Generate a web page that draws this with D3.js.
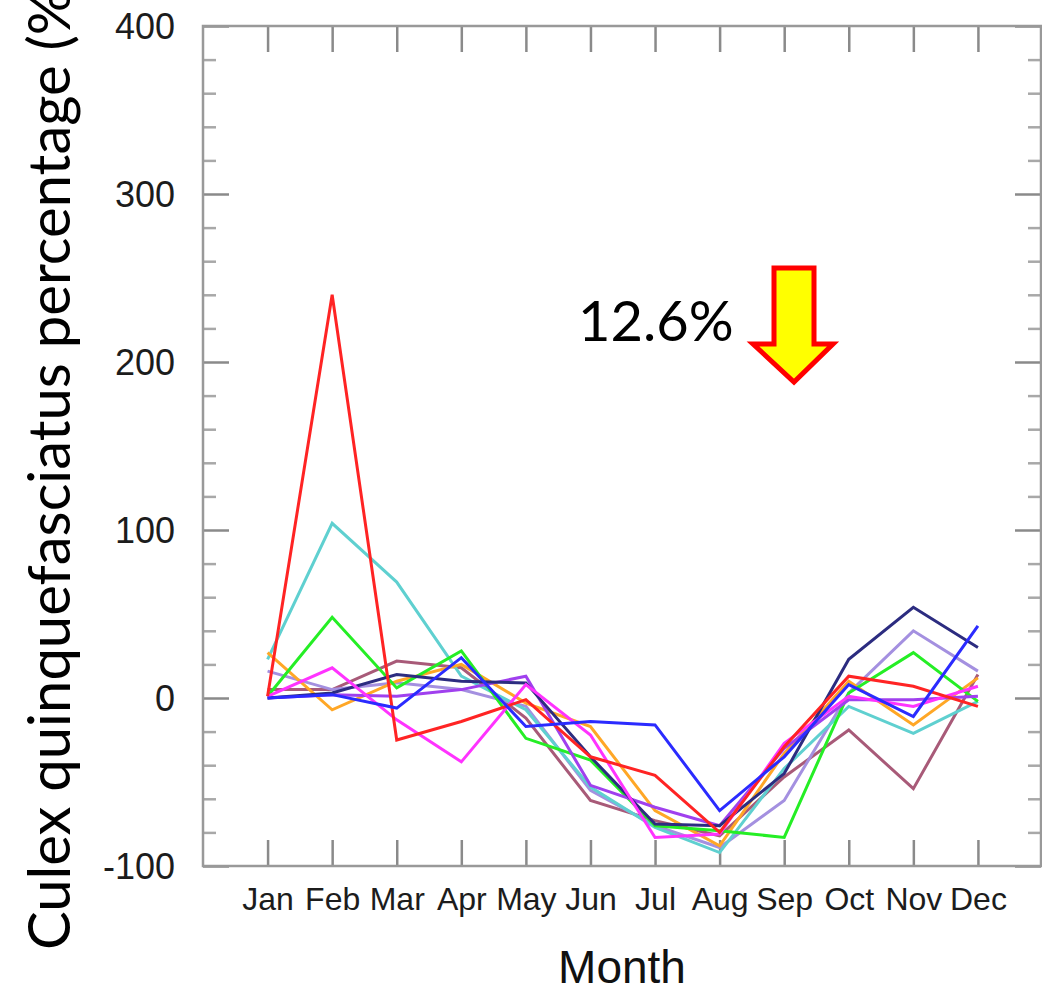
<!DOCTYPE html>
<html>
<head>
<meta charset="utf-8">
<script src="https://cdn.jsdelivr.net/npm/d3@7"></script>
<style>
  html, body { margin: 0; padding: 0; background: #fff; }
  svg { display: block; }
  .tick text { fill: #1c1c1c; font-family: "Liberation Sans", Arial, sans-serif; }
</style>
</head>
<body>
<svg id="chart" width="1042" height="990"></svg>
<script>
"use strict";

/* monthly change of Culex quinquefasciatus percentage, one series per run */
const MONTHS = ["Jan", "Feb", "Mar", "Apr", "May", "Jun", "Jul", "Aug", "Sep", "Oct", "Nov", "Dec"];
const Y_TICKS = [-100, 0, 100, 200, 300, 400];

const red      = [1, 240, -25, -14, -1, -35, -46, -80, -29, 13, 7, -5];
const cyan     = [23, 104, 69, 13, -7, -53, -77, -92, -42, -5, -21, -2];
const green    = [1, 48, 6, 28, -24, -37, -76, -79, -83, 3, 27, -2];
const orange   = [27, -7, 10, 20, -3, -17, -67, -88, -33, 10, -16, 12];
const brown    = [5, 5, 22, 18, -12, -61, -73, -82, -47, -19, -54, 14];
const lavender = [16, 5, 9, 5, -5, -55, -76, -89, -61, 3, 40, 16];
const purple   = [0, 2, 1, 5, 13, -52, -65, -76, -30, -1, -1, 1];
const magenta  = [1, 18, -13, -38, 8, -22, -83, -81, -27, 1, -5, 7];
const navy     = [0, 3, 14, 10, 9, -35, -75, -76, -45, 23, 54, 30];
const blue     = [0, 2, -6, 24, -17, -14, -16, -67, -35, 8, -11, 43];

const SERIES = [
  { values: brown, color: "#a85a78" },
  { values: lavender, color: "#a490e0" },
  { values: cyan, color: "#5fd0d0" },
  { values: orange, color: "#ffa726" },
  { values: green, color: "#25ee25" },
  { values: purple, color: "#a040ee" },
  { values: navy, color: "#2c2c80" },
  { values: magenta, color: "#ff33ff" },
  { values: red, color: "#ff2424" },
  { values: blue, color: "#2b2bff" },
];

const ANNOTATION = "12.6%";

const svg = d3.select("#chart");
const M = { left: 203, right: 1041, top: 26, bottom: 866 };
const AXIS = "#8a8a8a";

const x = d3.scaleLinear([0, 13], [M.left, M.right + 1.5]);
const y = d3.scaleLinear([-100, 400], [M.bottom, M.top]);
const monthIdx = MONTHS.map((_, i) => i + 1);

/* -- axes, all ticks pointing inward ------------------------------------- */

function styleAxis(g, color = AXIS) {
  g.select(".domain").remove();
  g.selectAll(".tick line").attr("stroke", color).attr("stroke-width", 2.5);
}

const minor = d3.range(-100, 401, 20).filter((v) => v % 100 !== 0);

svg.append("g")
  .attr("transform", `translate(${M.left},0)`)
  .call(d3.axisLeft(y).tickValues(minor).tickSize(-13).tickFormat(""))
  .call(styleAxis, "#a8a8a8");
svg.append("g")
  .attr("transform", `translate(${M.right},0)`)
  .call(d3.axisRight(y).tickValues(minor).tickSize(-13).tickFormat(""))
  .call(styleAxis, "#a8a8a8");

svg.append("g")
  .attr("transform", `translate(${M.left},0)`)
  .call(d3.axisLeft(y).tickValues(Y_TICKS).tickSize(-26).tickPadding(28).tickFormat((d) => String(d)))
  .call(styleAxis)
  .call((g) => g.selectAll(".tick text").attr("font-size", 36).attr("dy", "0.36em"));
svg.append("g")
  .attr("transform", `translate(${M.right},0)`)
  .call(d3.axisRight(y).tickValues(Y_TICKS).tickSize(-26).tickFormat(""))
  .call(styleAxis);

svg.append("g")
  .attr("transform", `translate(0,${M.bottom})`)
  .call(d3.axisBottom(x).tickValues(monthIdx).tickSize(-26).tickPadding(21).tickFormat((d) => MONTHS[d - 1]))
  .call(styleAxis)
  .call((g) => g.selectAll(".tick text").attr("font-size", 32));
svg.append("g")
  .attr("transform", `translate(0,${M.top})`)
  .call(d3.axisTop(x).tickValues(monthIdx).tickSize(-26).tickFormat(""))
  .call(styleAxis);

svg.append("rect")
  .attr("x", M.left)
  .attr("y", M.top)
  .attr("width", M.right - M.left)
  .attr("height", M.bottom - M.top)
  .attr("fill", "none")
  .attr("stroke", "#999")
  .attr("stroke-width", 2.5);

/* -- series --------------------------------------------------------------- */

const line = d3.line()
  .x((d, i) => x(i + 1))
  .y((d) => y(d));

svg.append("g")
  .selectAll("path")
  .data(SERIES)
  .join("path")
  .attr("d", (s) => line(s.values))
  .attr("fill", "none")
  .attr("stroke", (s) => s.color)
  .attr("stroke-width", 3)
  .attr("stroke-linejoin", "miter");

/* -- titles --------------------------------------------------------------- */

svg.append("text")
  .attr("x", 622)
  .attr("y", 983)
  .attr("text-anchor", "middle")
  .attr("font-family", "Liberation Sans, Arial, sans-serif")
  .attr("font-size", 46)
  .attr("fill", "#111")
  .text("Month");

svg.append("text")
  .attr("transform", "translate(70,950) rotate(-90)")
  .attr("font-family", "Lato, sans-serif")
  .attr("font-size", 58)
  .attr("fill", "#000")
  .text("Culex quinquefasciatus percentage (%)");

/* -- annotation: decrease arrow ------------------------------------------ */

svg.append("text")
  .attr("x", 578)
  .attr("y", 341)
  .attr("font-family", "Lato, sans-serif")
  .attr("font-size", 56)
  .attr("fill", "#000")
  .text(ANNOTATION);

svg.append("polygon")
  .attr("points", [
    [774, 268], [814, 268], [814, 344], [833, 344],
    [794, 382], [753, 344], [774, 344],
  ].map((p) => p.join(",")).join(" "))
  .attr("fill", "#ffff00")
  .attr("stroke", "#ff0000")
  .attr("stroke-width", 5)
  .attr("stroke-linejoin", "miter");
</script>
</body>
</html>
